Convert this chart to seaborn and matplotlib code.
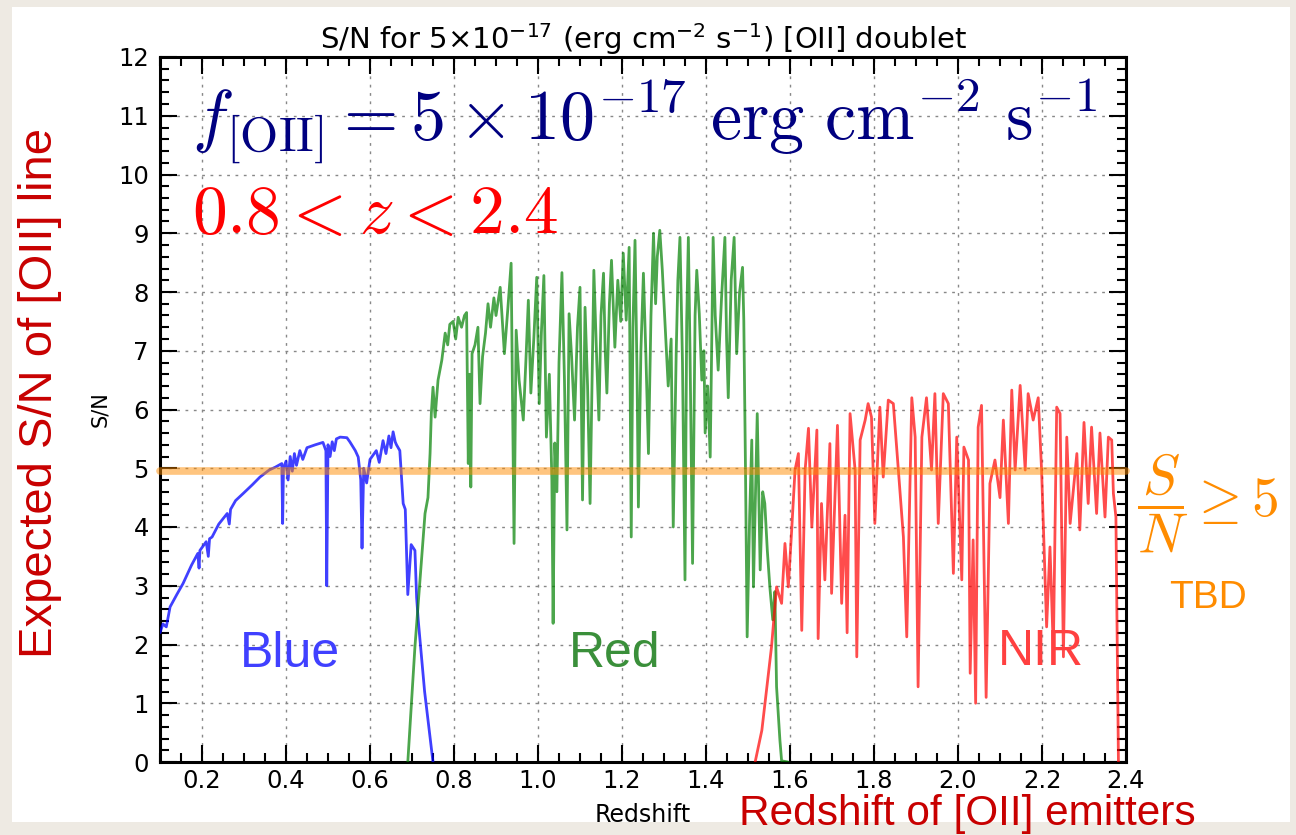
import matplotlib
matplotlib.use("Agg")
import matplotlib.pyplot as plt
from matplotlib.patches import Rectangle
from matplotlib.ticker import MultipleLocator, FixedLocator
import seaborn as sns
import pandas as pd

# ---------------- data ----------------
blue_z = [0.100, 0.107, 0.115, 0.124, 0.140, 0.155, 0.175, 0.190, 0.193, 0.195,
          0.210, 0.215, 0.218, 0.224, 0.240, 0.260, 0.265, 0.268, 0.280, 0.298,
          0.320, 0.338, 0.360, 0.375, 0.390, 0.392, 0.394, 0.400, 0.405, 0.410,
          0.415, 0.420, 0.425, 0.433, 0.440, 0.450, 0.470, 0.488, 0.495, 0.497,
          0.500, 0.505, 0.510, 0.515, 0.520, 0.529, 0.545, 0.552, 0.565, 0.572,
          0.578, 0.581, 0.585, 0.592, 0.600, 0.615, 0.622, 0.631, 0.638, 0.645,
          0.650, 0.655, 0.660, 0.663, 0.671, 0.679, 0.684, 0.690, 0.698, 0.707,
          0.711, 0.715, 0.730, 0.750]
blue_sn = [2.20, 2.35, 2.30, 2.64, 2.85, 3.04, 3.35, 3.55, 3.30, 3.60,
           3.75, 3.50, 3.80, 3.83, 4.05, 4.23, 4.05, 4.30, 4.45, 4.57,
           4.72, 4.85, 4.97, 5.02, 5.08, 4.06, 5.00, 5.12, 4.80, 5.20,
           4.95, 5.25, 5.05, 5.30, 5.15, 5.35, 5.40, 5.44, 5.30, 3.00,
           5.40, 5.20, 5.45, 5.30, 5.50, 5.53, 5.52, 5.45, 5.30, 5.19,
           4.80, 3.64, 5.00, 4.75, 5.15, 5.30, 5.10, 5.47, 5.25, 5.55,
           5.35, 5.62, 5.45, 5.40, 5.30, 4.40, 4.30, 2.85, 3.70, 3.60,
           2.80, 2.40, 1.20, 0.00]

red_z = [0.690, 0.707, 0.720, 0.731, 0.738, 0.743, 0.746, 0.750, 0.755, 0.762,
         0.771, 0.779, 0.785, 0.790, 0.798, 0.804, 0.810, 0.818, 0.825, 0.830,
         0.834, 0.837, 0.840, 0.843, 0.850, 0.857, 0.862, 0.868, 0.875, 0.881,
         0.887, 0.895, 0.900, 0.910, 0.915, 0.920, 0.928, 0.936, 0.943, 0.948,
         0.955, 0.965, 0.971, 0.977, 0.983, 0.990, 0.997, 1.003, 1.008, 1.014,
         1.020, 1.027, 1.033, 1.036, 1.040, 1.045, 1.050, 1.057, 1.063, 1.069,
         1.074, 1.080, 1.087, 1.094, 1.100, 1.106, 1.112, 1.118, 1.124, 1.133,
         1.140, 1.145, 1.150, 1.156, 1.160, 1.164, 1.170, 1.175, 1.183, 1.190,
         1.197, 1.203, 1.210, 1.217, 1.222, 1.226, 1.231, 1.236, 1.239, 1.245,
         1.251, 1.257, 1.263, 1.269, 1.275, 1.280, 1.284, 1.290, 1.296, 1.302,
         1.310, 1.317, 1.322, 1.329, 1.333, 1.338, 1.344, 1.350, 1.354, 1.358,
         1.362, 1.368, 1.374, 1.378, 1.384, 1.390, 1.395, 1.398, 1.404, 1.410,
         1.417, 1.422, 1.429, 1.437, 1.445, 1.449, 1.453, 1.460, 1.467, 1.473,
         1.480, 1.487, 1.490, 1.494, 1.498, 1.504, 1.509, 1.513, 1.522, 1.529,
         1.535, 1.540, 1.546, 1.552, 1.559, 1.564, 1.568, 1.576, 1.580, 1.595]
red_sn = [0.00, 1.96, 3.20, 4.23, 4.50, 5.25, 5.93, 6.38, 5.87, 6.50,
          6.84, 7.30, 7.10, 7.45, 7.50, 7.20, 7.57, 7.40, 7.60, 7.65,
          5.08, 6.60, 4.68, 6.95, 7.10, 7.40, 6.10, 6.90, 7.30, 7.80,
          7.40, 7.90, 7.60, 8.08, 7.50, 6.95, 7.70, 8.49, 3.72, 7.35,
          6.50, 5.82, 6.80, 7.86, 6.28, 7.20, 8.25, 6.10, 7.30, 8.28,
          5.53, 6.60, 4.80, 2.36, 5.43, 4.60, 6.80, 8.33, 6.50, 3.95,
          7.63, 6.90, 5.82, 7.40, 8.08, 4.46, 7.74, 6.40, 4.40, 8.37,
          6.80, 5.82, 7.60, 8.32, 7.00, 6.28, 7.80, 8.54, 7.06, 8.20,
          7.50, 8.66, 7.52, 8.76, 3.83, 7.40, 8.88, 6.50, 4.34, 7.00,
          8.32, 6.90, 5.25, 7.60, 9.00, 7.80, 8.60, 9.05, 8.37, 7.52,
          6.40, 7.20, 4.00, 6.95, 8.20, 8.93, 6.80, 3.10, 7.50, 8.93,
          6.95, 3.38, 7.60, 8.37, 7.63, 6.50, 7.00, 5.60, 6.40, 5.19,
          8.93, 7.60, 6.67, 7.90, 8.93, 7.20, 6.20, 8.20, 8.93, 6.95,
          8.00, 8.42, 7.52, 5.00, 2.13, 4.20, 5.48, 2.98, 5.93, 3.27,
          4.60, 4.40, 3.60, 2.98, 2.42, 2.90, 1.28, 0.37, 0.02, 0.00]

nir_z = [1.517, 1.533, 1.545, 1.556, 1.568, 1.580, 1.588, 1.596, 1.604, 1.612,
         1.620, 1.628, 1.636, 1.644, 1.652, 1.664, 1.667, 1.675, 1.683, 1.695,
         1.699, 1.713, 1.723, 1.731, 1.736, 1.743, 1.755, 1.759, 1.767, 1.779,
         1.786, 1.794, 1.802, 1.814, 1.822, 1.834, 1.846, 1.858, 1.870, 1.878,
         1.890, 1.898, 1.905, 1.914, 1.925, 1.937, 1.945, 1.953, 1.965, 1.977,
         1.989, 1.997, 2.009, 2.014, 2.025, 2.029, 2.036, 2.042, 2.048, 2.056,
         2.067, 2.076, 2.088, 2.100, 2.108, 2.120, 2.128, 2.136, 2.148, 2.160,
         2.167, 2.179, 2.191, 2.199, 2.211, 2.219, 2.227, 2.235, 2.243, 2.251,
         2.259, 2.267, 2.283, 2.290, 2.300, 2.310, 2.318, 2.330, 2.338, 2.350,
         2.358, 2.366, 2.370, 2.376, 2.382]
nir_sn = [0.00, 0.54, 1.28, 1.96, 2.98, 2.70, 3.72, 2.98, 3.95, 4.97,
          5.25, 2.24, 4.97, 5.68, 4.00, 5.65, 2.10, 4.40, 3.10, 5.42,
          2.87, 5.73, 2.70, 4.20, 2.20, 5.93, 4.97, 1.79, 5.48, 5.82,
          6.10, 5.87, 4.06, 6.04, 4.85, 6.16, 6.10, 4.97, 3.83, 2.13,
          6.20, 5.53, 1.28, 5.53, 6.20, 4.97, 6.27, 4.06, 6.27, 6.10,
          3.21, 5.53, 3.10, 5.36, 5.14, 1.51, 3.78, 1.00, 5.70, 6.07,
          1.10, 4.74, 5.14, 4.50, 5.82, 4.06, 6.33, 4.97, 6.41, 4.97,
          6.27, 5.82, 6.20, 4.97, 2.30, 3.66, 1.90, 6.04, 5.93, 1.79,
          5.53, 4.06, 5.25, 3.95, 5.78, 4.40, 5.70, 4.23, 5.60, 4.17,
          5.53, 5.48, 4.57, 4.17, 0.00]

threshold = 4.95
x_ticks = [0.2, 0.4, 0.6, 0.8, 1.0, 1.2, 1.4, 1.6, 1.8, 2.0, 2.2, 2.4]
y_ticks = list(range(0, 13))

# ---------------- style ----------------
sns.set_theme(style="white")
plt.rcParams["font.family"] = ["DejaVu Sans"]
plt.rcParams["mathtext.fontset"] = "dejavusans"
plt.rcParams["text.color"] = "black"
plt.rcParams["axes.labelcolor"] = "black"
plt.rcParams["xtick.color"] = "black"
plt.rcParams["ytick.color"] = "black"

W, H = 1296, 835
fig = plt.figure(figsize=(W / 100, H / 100), dpi=100, facecolor="#eeeae3")
panel = Rectangle((12 / W, 1 - 822 / H), (1290 - 12) / W, (822 - 7) / H,
                  transform=fig.transFigure, facecolor="white",
                  edgecolor="none", zorder=-10)
fig.patches.append(panel)
ax = fig.add_axes([160 / W, 1 - 762 / H, (1126 - 160) / W, (762 - 57) / H])
ax.set_zorder(1)
ax.set_facecolor("white")

df_b = pd.DataFrame({"z": blue_z, "sn": blue_sn})
df_r = pd.DataFrame({"z": red_z, "sn": red_sn})
df_n = pd.DataFrame({"z": nir_z, "sn": nir_sn})

sns.lineplot(data=df_b, x="z", y="sn", ax=ax, color="#0000ff", alpha=0.75,
             lw=2.0, estimator=None, sort=False, zorder=3)
sns.lineplot(data=df_r, x="z", y="sn", ax=ax, color="#008000", alpha=0.7,
             lw=2.0, estimator=None, sort=False, zorder=3)
sns.lineplot(data=df_n, x="z", y="sn", ax=ax, color="#ff0000", alpha=0.7,
             lw=2.0, estimator=None, sort=False, zorder=3)
ax.axhline(threshold, color="darkorange", alpha=0.5, lw=5.5, zorder=4, clip_on=False)

ax.set_xlim(0.1, 2.4)
ax.set_ylim(0, 12)
ax.xaxis.set_major_locator(FixedLocator(x_ticks))
ax.set_xticklabels([f"{t:.1f}" for t in x_ticks])
ax.xaxis.set_minor_locator(MultipleLocator(0.05))
ax.yaxis.set_major_locator(FixedLocator(y_ticks))
ax.yaxis.set_minor_locator(MultipleLocator(0.2))
ax.tick_params(which="both", direction="in", top=True, right=True, bottom=True, left=True,
               color="black", width=1.5)
ax.tick_params(which="major", length=12, labelsize=17.5, pad=8, labelcolor="black")
ax.tick_params(axis="x", which="major", pad=5)
ax.tick_params(which="minor", length=6.5)
for s in ax.spines.values():
    s.set_linewidth(2.2)
    s.set_color("black")
ax.grid(True, which="major", ls=(0, (2, 4)), color="#888888", lw=1.0)
ax.set_axisbelow(True)

ax.set_title(r"S/N for 5$\times$10$^{-17}$ (erg cm$^{-2}$ s$^{-1}$) [OII] doublet",
             fontsize=21, pad=6, color="black")
ax.set_xlabel("Redshift", fontsize=17, labelpad=7)
ax.set_ylabel("S/N", fontsize=15, labelpad=6)

# ---------------- annotations ----------------
ax.text(0.176, 10.61, r"$f_{[\mathrm{OII}]} = 5\times10^{-17}\ \mathrm{erg\ cm^{-2}\ s^{-1}}$",
        color="#000080", fontsize=50.5, math_fontfamily="cm", ha="left", va="baseline", zorder=5)
ax.text(0.176, 9.0, r"$0.8 < z < 2.4$", color="#ff0000", fontsize=50,
        math_fontfamily="cm", ha="left", va="baseline", zorder=5)
ax.text(0.41, 1.62, "Blue", color="#4040ff", fontsize=36, family=["Liberation Sans"],
        ha="center", va="baseline", zorder=5)
ax.text(1.183, 1.62, "Red", color="#3a8f3a", fontsize=36, family=["Liberation Sans"],
        ha="center", va="baseline", zorder=5)
ax.text(2.198, 1.65, "NIR", color="#ff4040", fontsize=36, family=["Liberation Sans"],
        ha="center", va="baseline", zorder=5)

fig.text(1208 / W, 1 - 503 / H, r"$\dfrac{S}{N}\geq 5$", color="darkorange", fontsize=40,
         math_fontfamily="cm", ha="center", va="center", zorder=5)
fig.text(1208 / W, 1 - 598 / H, "TBD", color="darkorange", fontsize=28,
         family=["Liberation Sans"], ha="center", va="center", zorder=5)
fig.text(40 / W, 1 - 393 / H, "Expected S/N of [OII] line", color="#c80000", fontsize=34,
         family=["Liberation Sans"], rotation=90, ha="center", va="center", zorder=5)
fig.text(967 / W, 1 - 825.5 / H, "Redshift of [OII] emitters", color="#c80000", fontsize=30.5,
         family=["Liberation Sans"], ha="center", va="baseline", zorder=5)

fig.savefig("out.png", dpi=100, facecolor=fig.get_facecolor())
